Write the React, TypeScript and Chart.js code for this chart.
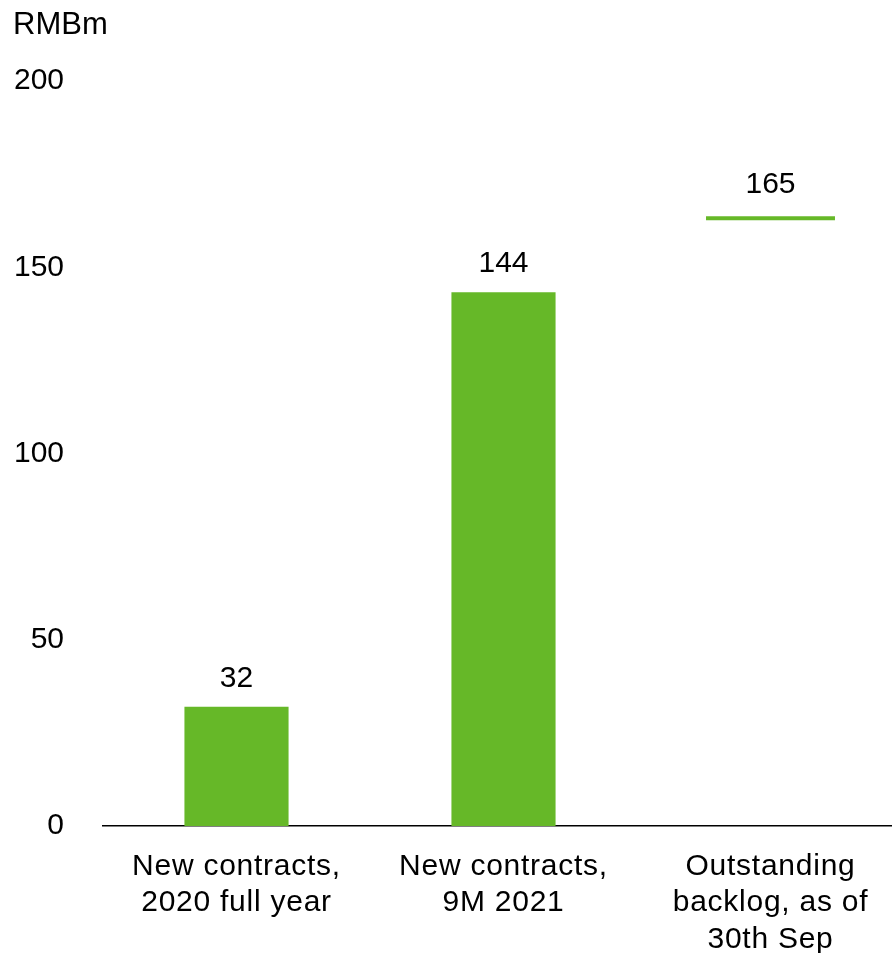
import React, { useEffect, useRef } from 'react';
import { Chart, registerables } from 'chart.js';
Chart.register(...registerables);

const categories: string[][] = [
  ['New contracts,', '2020 full year'],
  ['New contracts,', '9M 2021'],
  ['Outstanding', 'backlog, as of', '30th Sep'],
];
const newContracts: (number | null)[] = [32, 143.3, null];
const backlogLine: ([number, number] | null)[] = [null, null, [162.6, 163.7]];
const valueLabels: string[] = ['32', '144', '165'];
const yTicks: number[] = [0, 50, 100, 150, 200];
const unitLabel = 'RMBm';

const FONT = "'Liberation Sans', Arial, sans-serif";
const GREEN = '#66b828';

export default function App() {
  const ref = useRef<HTMLCanvasElement>(null);
  useEffect(() => {
    if (!ref.current) return;
    const labelPlugin = {
      id: 'valueLabels',
      afterDatasetsDraw(chart: any) {
        const ctx = chart.ctx;
        ctx.save();
        ctx.fillStyle = '#000';
        ctx.font = `30px ${FONT}`;
        ctx.textAlign = 'center';
        ctx.textBaseline = 'alphabetic';
        chart.data.datasets.forEach((ds: any, di: number) => {
          const meta = chart.getDatasetMeta(di);
          meta.data.forEach((el: any, i: number) => {
            const v = ds.data[i];
            if (v === null || v === undefined) return;
            const gap = Array.isArray(v) ? 23 : 20;
            ctx.fillText(valueLabels[i], el.x, el.y - gap);
          });
        });
        ctx.textAlign = 'left';
        ctx.font = `31px ${FONT}`;
        ctx.fillText(unitLabel, 13, 34);
        ctx.restore();
        // letter spacing for the category labels drawn after datasets
        (ctx as any).letterSpacing = '0.75px';
      },
      afterDraw(chart: any) {
        (chart.ctx as any).letterSpacing = '0px';
      },
    };
    const chart = new Chart(ref.current, {
      type: 'bar',
      data: {
        labels: categories,
        datasets: [
          {
            data: newContracts,
            backgroundColor: GREEN,
            barPercentage: 0.39,
            categoryPercentage: 1,
            grouped: false,
          } as any,
          {
            data: backlogLine as any,
            backgroundColor: GREEN,
            barPercentage: 0.483,
            categoryPercentage: 1,
            grouped: false,
          } as any,
        ],
      },
      options: {
        animation: false,
        responsive: false,
        maintainAspectRatio: false,
        layout: { padding: { left: 13, top: 81, right: 0, bottom: 0 } },
        plugins: { legend: { display: false }, tooltip: { enabled: false } },
        scales: {
          x: {
            grid: { display: false, drawTicks: false },
            border: { display: true, color: '#000', width: 1.6, z: -1 },
            ticks: {
              color: '#000',
              font: { family: FONT, size: 30, lineHeight: 1.22 },
              padding: 22,
              maxRotation: 0,
              autoSkip: false,
              z: 1,
            },
            afterFit: (s: any) => { s.height = 127; },
          } as any,
          y: {
            min: 0,
            max: 200,
            grid: { display: false, drawTicks: false },
            border: { display: false },
            ticks: { color: '#000', font: { family: FONT, size: 30 }, padding: 39, stepSize: 50 },
            afterBuildTicks: (s: any) => { s.ticks = yTicks.map((v) => ({ value: v })); },
            afterFit: (s: any) => { s.width = 90; },
          },
        },
      },
      plugins: [labelPlugin],
    });
    return () => chart.destroy();
  }, []);
  return (
    <div style={{ position: 'absolute', left: 0, top: 0, width: 892, height: 953, overflow: 'hidden', background: '#fff' }}>
      <canvas ref={ref} width={904} height={953} style={{ width: 904, height: 953, display: 'block' }} />
    </div>
  );
}
